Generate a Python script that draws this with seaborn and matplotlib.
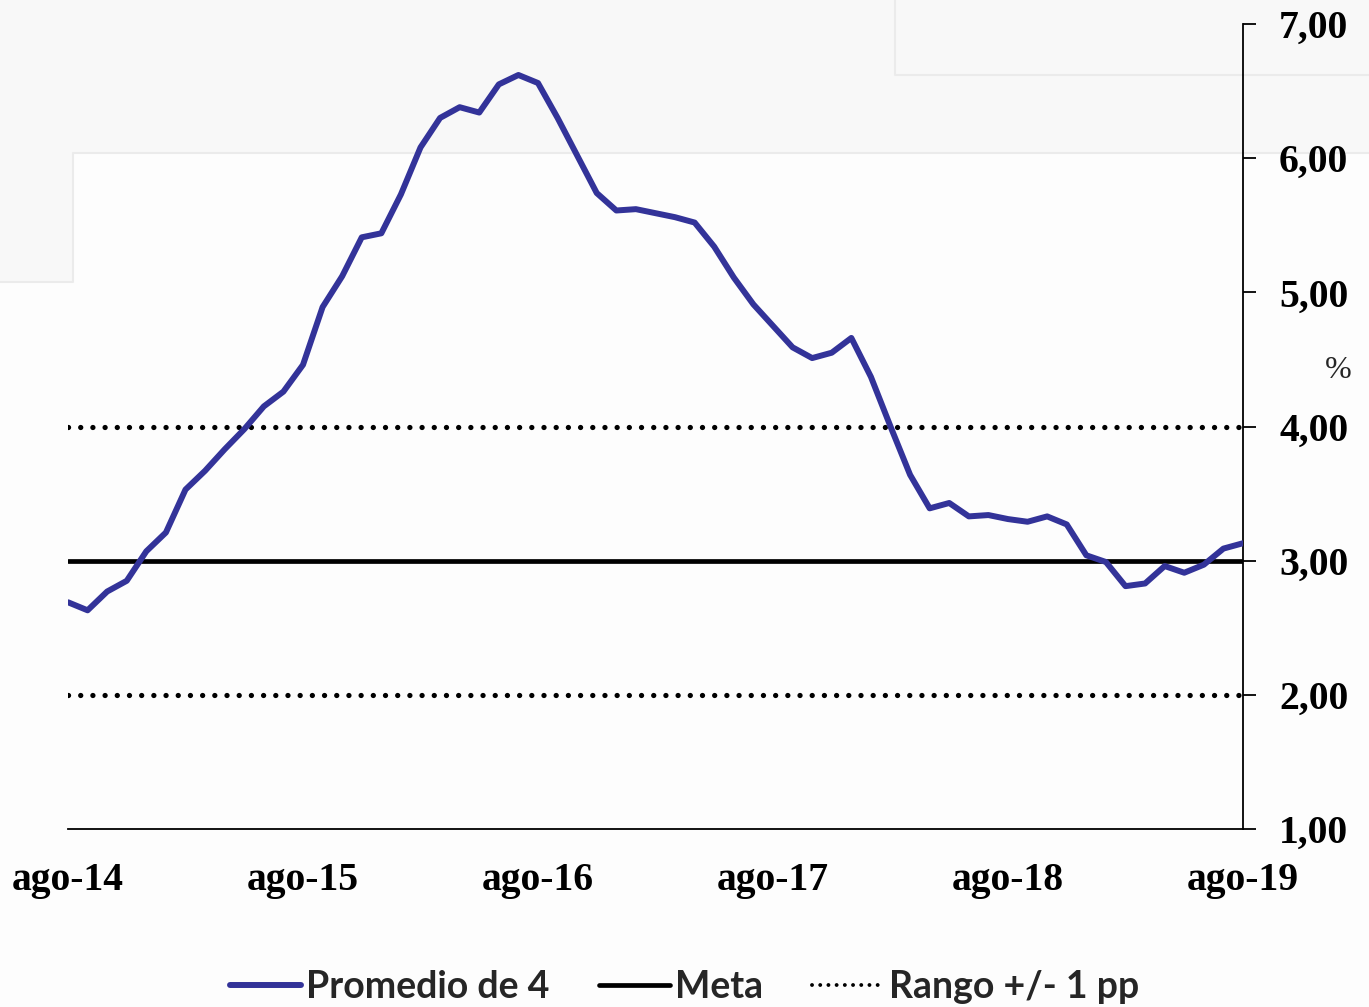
import numpy as np
import pandas as pd
import matplotlib
matplotlib.use("Agg")
import matplotlib.pyplot as plt
import seaborn as sns
from matplotlib.lines import Line2D
from matplotlib.patches import Polygon

# monthly values, ago-14 .. ago-19
promedio = [2.69, 2.63, 2.77, 2.85, 3.07,
            3.21, 3.53, 3.67, 3.83, 3.98, 4.15, 4.26, 4.46, 4.89, 5.12, 5.41, 5.44,
            5.73, 6.08, 6.30, 6.38, 6.34, 6.55, 6.62, 6.56, 6.30, 6.02, 5.74, 5.61,
            5.62, 5.59, 5.56, 5.52, 5.34, 5.11, 4.91, 4.75, 4.59, 4.51, 4.55, 4.66,
            4.37, 4.00, 3.64, 3.39, 3.43, 3.33, 3.34, 3.31, 3.29, 3.33, 3.27, 3.04,
            2.99, 2.81, 2.83, 2.96, 2.91, 2.97, 3.09, 3.13]
meta = 3.0
rango = [2.0, 4.0]
x_labels = ["ago-14", "ago-15", "ago-16", "ago-17", "ago-18", "ago-19"]
y_ticks = [1, 2, 3, 4, 5, 6, 7]
series_names = ["Promedio de 4", "Meta", "Rango +/- 1 pp"]

df = pd.DataFrame({"mes": np.arange(len(promedio)), "valor": promedio})

sns.set_style("white")
plt.rcParams["font.family"] = ["Liberation Serif", "DejaVu Serif"]

W, H = 1369, 1007
fig = plt.figure(figsize=(W / 100, H / 100), dpi=100, facecolor="#fdfdfd")

# faint background shapes from the source image
bg = Polygon([(0, 1), (1, 1), (1, 1 - 153 / H), (73 / W, 1 - 153 / H),
              (73 / W, 1 - 282 / H), (0, 1 - 282 / H)],
             closed=True, transform=fig.transFigure, facecolor="#f8f8f8",
             edgecolor="none", zorder=-10)
fig.patches.append(bg)
edge = "#ebebeb"
fig.add_artist(Line2D([0, 73 / W, 73 / W, 1], [1 - 282 / H, 1 - 282 / H, 1 - 153 / H, 1 - 153 / H],
                      transform=fig.transFigure, color=edge, lw=1.5, zorder=-9))
fig.add_artist(Line2D([895 / W, 895 / W, 1], [1, 1 - 75 / H, 1 - 75 / H],
                      transform=fig.transFigure, color=edge, lw=1.5, zorder=-9))

ax = fig.add_axes([68 / W, 1 - 829 / H, (1243 - 68) / W, (829 - 24) / H])
ax.set_facecolor("none")

sns.lineplot(data=df, x="mes", y="valor", ax=ax, color="#333399", lw=4.3, zorder=4)
ax.axhline(meta, color="black", lw=3.4, zorder=3)
for r in rango:
    ax.axhline(r, color="black", lw=3.8, linestyle=(0, (0.01, 2.3)),
               dash_capstyle="round", zorder=3)

ax.set_xlim(0, len(promedio) - 1)
ax.set_ylim(1, 7)
ax.set_xticks(np.arange(0, len(promedio), 12))
ax.set_xticklabels(x_labels)
ax.set_yticks(y_ticks)
ax.set_yticklabels([f"{v:.2f}".replace(".", ",") for v in y_ticks])
ax.set_xlabel("")
ax.set_ylabel("")

for s in ["left", "top"]:
    ax.spines[s].set_visible(False)
for s in ["right", "bottom"]:
    ax.spines[s].set_color("black")
    ax.spines[s].set_linewidth(1.3)

ax.yaxis.tick_right()
ax.tick_params(axis="y", direction="out", length=9, width=1.3, pad=17,
               labelsize=28.5, colors="black")
ax.tick_params(axis="x", direction="in", length=9, width=1.3, pad=24,
               labelsize=28.5, colors="black")
for lab in ax.get_xticklabels() + ax.get_yticklabels():
    lab.set_fontweight("bold")

fig.text(1352 / W, 1 - 370 / H, "%", ha="right", va="center", fontsize=23)

handles = [Line2D([], [], color="#333399", lw=4.3),
           Line2D([], [], color="black", lw=3.4),
           Line2D([], [], color="black", lw=2.8, linestyle=(0, (0.01, 2.1)),
                  dash_capstyle="round")]
leg = fig.legend(handles, series_names, loc="center", bbox_to_anchor=(0.5, 1 - 987 / H),
                 ncol=3, frameon=False, handlelength=1.9, handletextpad=0.15,
                 columnspacing=1.3,
                 prop={"family": ["Lato", "DejaVu Sans"], "weight": "bold", "size": 27})

fig.savefig("out.png", dpi=100, facecolor=fig.get_facecolor())
